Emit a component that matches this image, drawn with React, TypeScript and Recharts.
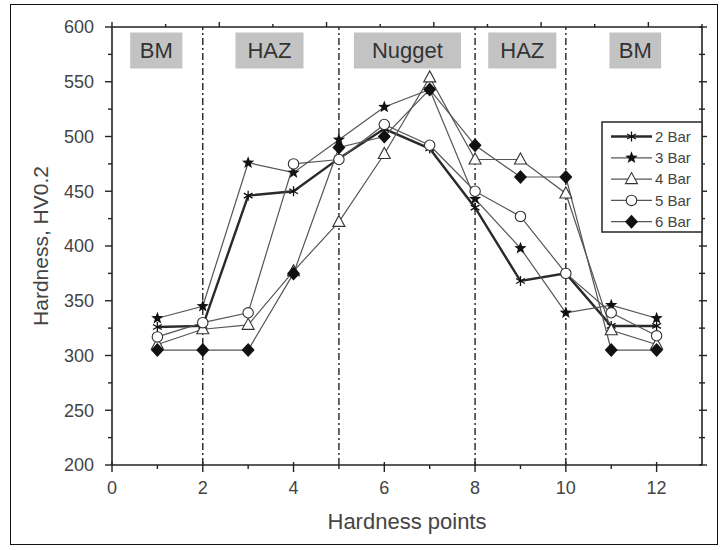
import React from 'react';
import { LineChart, Line, XAxis, YAxis, ReferenceLine, ReferenceArea } from 'recharts';

// hardness traverse, HV0.2
const hardnessPoints = [1, 2, 3, 4, 5, 6, 7, 8, 9, 10, 11, 12];
const bar2 = [326, 327, 446, 450, 480, 507, 489, 435, 368, 375, 327, 327];
const bar3 = [334, 345, 476, 467, 497, 527, 543, 443, 398, 339, 346, 334];
const bar4 = [310, 324, 328, 377, 422, 484, 554, 479, 479, 448, 323, 310];
const bar5 = [317, 330, 339, 475, 479, 511, 492, 450, 427, 375, 339, 318];
const bar6 = [305, 305, 305, 375, 490, 500, 543, 492, 463, 463, 305, 305];
const seriesNames = ['2 Bar', '3 Bar', '4 Bar', '5 Bar', '6 Bar'];

const zoneLabels = ['BM', 'HAZ', 'Nugget', 'HAZ', 'BM'];
const zoneStarts = [0.4, 2.72, 5.33, 8.29, 10.96];
const zoneEnds = [1.55, 4.22, 7.69, 9.79, 12.1];
const zoneBoundaries = [2, 5, 8, 10];

const xTicks = [0, 1, 2, 3, 4, 5, 6, 7, 8, 9, 10, 11, 12];
const yTicks = [200, 225, 250, 275, 300, 325, 350, 375, 400, 425, 450, 475, 500, 525, 550, 575, 600];

const data = hardnessPoints.map((x, i) => ({
  x,
  b2: bar2[i],
  b3: bar3[i],
  b4: bar4[i],
  b5: bar5[i],
  b6: bar6[i],
}));

const series = [
  { key: 'b2', shape: 'asterisk', color: '#2a2a2a', width: 2.4 },
  { key: 'b3', shape: 'star', color: '#555', width: 1.2 },
  { key: 'b4', shape: 'triangle', color: '#555', width: 1.2 },
  { key: 'b5', shape: 'circle', color: '#555', width: 1.2 },
  { key: 'b6', shape: 'diamond', color: '#555', width: 1.2 },
];

const FONT = '"Liberation Sans", Arial, sans-serif';
const TEXT = '#444';

function Marker({ shape, cx, cy }: { shape: string; cx: number; cy: number }) {
  if (cx == null || cy == null) return null;
  switch (shape) {
    case 'asterisk': {
      const r = 5;
      return (
        <g stroke="#111" strokeWidth={1.3}>
          <line x1={cx} y1={cy - r} x2={cx} y2={cy + r} />
          <line x1={cx - r * 0.87} y1={cy - r / 2} x2={cx + r * 0.87} y2={cy + r / 2} />
          <line x1={cx - r * 0.87} y1={cy + r / 2} x2={cx + r * 0.87} y2={cy - r / 2} />
        </g>
      );
    }
    case 'star': {
      const pts: string[] = [];
      for (let k = 0; k < 10; k++) {
        const rad = k % 2 === 0 ? 6.5 : 2.7;
        const a = -Math.PI / 2 + (k * Math.PI) / 5;
        pts.push(`${cx + rad * Math.cos(a)},${cy + rad * Math.sin(a)}`);
      }
      return <polygon points={pts.join(' ')} fill="#111" />;
    }
    case 'triangle':
      return (
        <polygon
          points={`${cx},${cy - 6.5} ${cx + 6},${cy + 4.5} ${cx - 6},${cy + 4.5}`}
          fill="#fff"
          stroke="#333"
          strokeWidth={1.1}
        />
      );
    case 'circle':
      return <circle cx={cx} cy={cy} r={5.2} fill="#fff" stroke="#333" strokeWidth={1.1} />;
    case 'diamond':
      return (
        <polygon
          points={`${cx},${cy - 7} ${cx + 6.5},${cy} ${cx},${cy + 7} ${cx - 6.5},${cy}`}
          fill="#111"
        />
      );
    default:
      return null;
  }
}

const AxisTick = (props: any) => {
  const { x, y, payload, side } = props;
  const v = payload.value;
  const vertical = side === 'left' || side === 'right';
  const major = vertical ? v % 50 === 0 : v % 2 === 0;
  const len = major ? 7 : 4;
  const stroke = { stroke: '#222', strokeWidth: 1.4 };
  if (side === 'bottom') {
    return (
      <g>
        <line x1={x} y1={y - (major ? 3 : 0)} x2={x} y2={y + len} {...stroke} />
        {major && (
          <text x={x} y={y + 29} textAnchor="middle" fontSize={18} fill={TEXT} fontFamily={FONT}>
            {v}
          </text>
        )}
      </g>
    );
  }
  if (side === 'left') {
    return (
      <g>
        <line x1={x} y1={y} x2={x - len} y2={y} {...stroke} />
        {major && (
          <text x={x - 18} y={y} dy="0.35em" textAnchor="end" fontSize={18} fill={TEXT} fontFamily={FONT}>
            {v}
          </text>
        )}
      </g>
    );
  }
  if (side === 'top') {
    return <line x1={x} y1={y} x2={x} y2={y - (major ? 5 : 3)} {...stroke} />;
  }
  return <line x1={x - 3} y1={y} x2={x + (major ? 5 : 3)} y2={y} {...stroke} />;
};

const YTitle = (props: any) => {
  const { viewBox } = props;
  const cx = 40;
  const cy = viewBox.y + viewBox.height / 2;
  return (
    <text
      x={cx}
      y={cy}
      transform={`rotate(-90, ${cx}, ${cy})`}
      textAnchor="middle"
      dominantBaseline="central"
      fontSize={21}
      fill={TEXT}
      fontFamily={FONT}
    >
      Hardness, HV0.2
    </text>
  );
};

function LegendBox() {
  const rowH = 21.3;
  return (
    <svg
      width={102}
      height={112}
      style={{ position: 'absolute', left: 601, top: 121 }}
    >
      <rect x={1} y={1} width={100} height={110} fill="#fff" stroke="#333" strokeWidth={1.6} />
      {series.map((s, i) => {
        const cy = 15.5 + i * rowH;
        return (
          <g key={s.key}>
            <line x1={10} y1={cy} x2={51} y2={cy} stroke={s.color} strokeWidth={s.width} />
            <Marker shape={s.shape} cx={30.5} cy={cy} />
            <text x={54} y={cy} dy="0.35em" fontSize={15} fill={TEXT} fontFamily={FONT}>
              {seriesNames[i]}
            </text>
          </g>
        );
      })}
    </svg>
  );
}

export default function App() {
  return (
    <div
      style={{
        position: 'absolute',
        left: 0,
        top: 0,
        width: 724,
        height: 550,
        background: '#fff',
        fontFamily: FONT,
      }}
    >
      <div
        style={{
          position: 'absolute',
          left: 10,
          top: 4,
          width: 708,
          height: 541,
          border: '1.5px solid #111',
          boxSizing: 'border-box',
        }}
      />
      <LineChart
        width={724}
        height={550}
        data={data}
        margin={{ top: 17, right: 12, bottom: 25, left: 0 }}
        style={{ position: 'absolute', left: 0, top: 0 }}
      >
        <XAxis
          dataKey="x"
          type="number"
          domain={[0, 13]}
          allowDataOverflow
          ticks={xTicks}
          interval={0}
          tickSize={0}
          tickMargin={0}
          tickLine={false}
          axisLine={{ stroke: '#222', strokeWidth: 1.6 }}
          tick={(p: any) => <AxisTick {...p} side="bottom" />}
          height={60}
          label={{
            value: 'Hardness points',
            position: 'insideBottom',
            offset: -4,
            fontSize: 22,
            fill: TEXT,
            fontFamily: FONT,
          }}
        />
        <XAxis
          xAxisId="top"
          orientation="top"
          type="number"
          domain={[0, 13]}
          allowDataOverflow
          ticks={xTicks}
          interval={0}
          tickSize={0}
          tickMargin={0}
          tickLine={false}
          axisLine={{ stroke: '#222', strokeWidth: 1.6 }}
          tick={(p: any) => <AxisTick {...p} side="top" />}
          height={10}
        />
        <YAxis
          type="number"
          domain={[200, 600]}
          allowDataOverflow
          ticks={yTicks}
          interval={0}
          tickSize={0}
          tickMargin={0}
          tickLine={false}
          axisLine={{ stroke: '#222', strokeWidth: 1.6 }}
          tick={(p: any) => <AxisTick {...p} side="left" />}
          width={112}
          label={<YTitle />}
        />
        <YAxis
          yAxisId="right"
          orientation="right"
          type="number"
          domain={[200, 600]}
          allowDataOverflow
          ticks={yTicks}
          interval={0}
          tickSize={0}
          tickMargin={0}
          tickLine={false}
          axisLine={{ stroke: '#222', strokeWidth: 1.6 }}
          tick={(p: any) => <AxisTick {...p} side="right" />}
          width={10}
        />
        {zoneLabels.map((z, i) => (
          <ReferenceArea
            key={`zone-${i}`}
            x1={zoneStarts[i]}
            x2={zoneEnds[i]}
            y1={562}
            y2={595}
            fill="#c3c3c3"
            fillOpacity={1}
            stroke="none"
            label={{ value: z, position: 'center', fontSize: 22, fill: '#333', fontFamily: FONT }}
          />
        ))}
        {zoneBoundaries.map((b) => (
          <ReferenceLine
            key={`bound-${b}`}
            x={b}
            stroke="#222"
            strokeWidth={1.4}
            strokeDasharray="7 3 2 3"
          />
        ))}
        {series.map((s) => (
          <Line
            key={s.key}
            dataKey={s.key}
            type="linear"
            stroke={s.color}
            strokeWidth={s.width}
            dot={(p: any) => <Marker key={`${s.key}-${p.index}`} shape={s.shape} cx={p.cx} cy={p.cy} />}
            activeDot={false}
            isAnimationActive={false}
          />
        ))}
      </LineChart>
      <LegendBox />
    </div>
  );
}
